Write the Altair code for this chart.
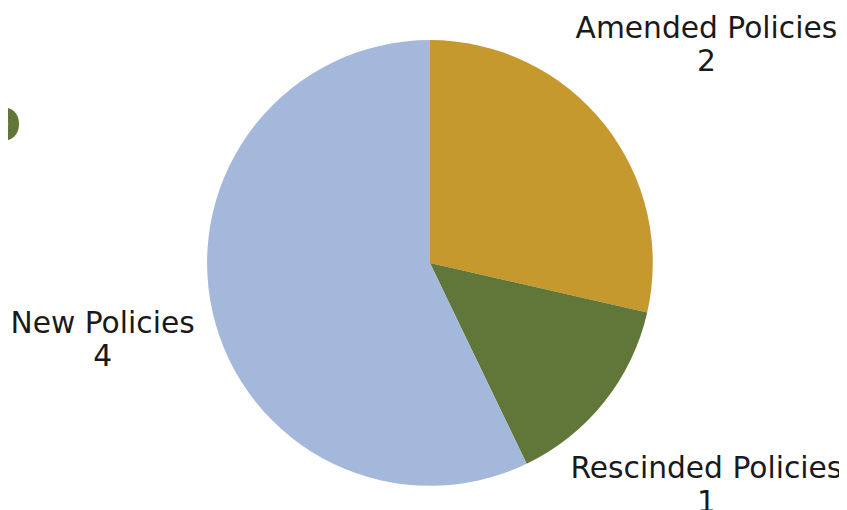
import altair as alt
import pandas as pd

categories = ["Amended Policies", "Rescinded Policies", "New Policies"]
values = [2, 1, 4]
colors = ["#C6992F", "#61773A", "#A4B8DB"]

df = pd.DataFrame({
    "category": categories,
    "value": values,
    "idx": list(range(len(categories))),
})
df["label"] = df["category"] + "\n" + df["value"].astype(str)

CX, CY = 426, 255

pie = alt.Chart(df).mark_arc(outerRadius=225).encode(
    theta=alt.Theta("value:Q", stack=True),
    order=alt.Order("idx:Q"),
    color=alt.Color("category:N", scale=alt.Scale(domain=categories, range=colors), legend=None),
    x=alt.value(CX),
    y=alt.value(CY),
)

text_style = dict(font="DejaVu Sans", fontSize=30, color="#1a1a1a", align="center",
                  baseline="middle", lineBreak="\n", lineHeight=34, dy=-14)

lab_base = alt.Chart(df).transform_window(
    cum="sum(value)", sort=[alt.SortField("idx")]
).transform_calculate(
    mid="datum.cum - datum.value / 2"
).encode(
    theta=alt.Theta("mid:Q"),
    text="label:N",
    x=alt.value(CX),
    y=alt.value(CY),
)

labels_right = lab_base.mark_text(radius=357, **text_style).transform_filter(
    alt.FieldOneOfPredicate(field="category", oneOf=categories[:2]))

labels_left = lab_base.mark_text(radius=339, **text_style).transform_filter(
    alt.FieldOneOfPredicate(field="category", oneOf=categories[2:]))

frag = alt.Chart(pd.DataFrame({"t": ["o"]})).mark_text(
    font="DejaVu Sans", fontSize=60, fontWeight="bold", color="#61773A",
    align="center", baseline="middle"
).encode(text="t:N", x=alt.value(-7), y=alt.value(113))

chart = alt.layer(pie, labels_right, labels_left, frag).properties(
    width=839, height=502, padding=0,
    autosize=alt.AutoSizeParams(type="none"),
).configure_view(stroke=None)

chart.save("out.html", embed_options={"renderer": "svg", "actions": False})
